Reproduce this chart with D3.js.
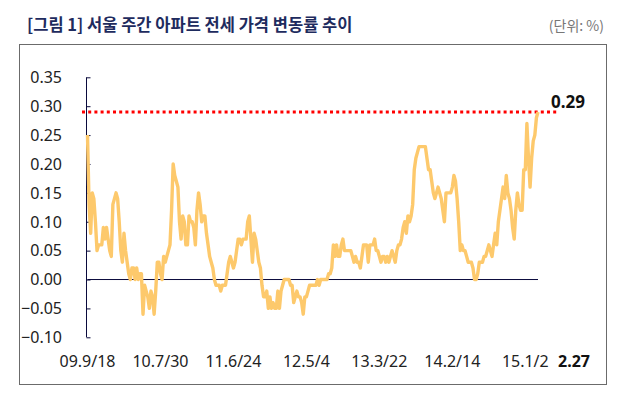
<!DOCTYPE html>
<html>
<head>
<meta charset="utf-8">
<script src="https://cdn.jsdelivr.net/npm/d3@7"></script>
<style>
  body { margin: 0; background: #fff; }
  svg text { font-family: "Noto Sans", "Noto Sans CJK KR", sans-serif; }
</style>
</head>
<body>
<script>
// weekly Seoul apartment jeonse price change (%), 09.9/18 ~ 15.2/27
const weeklyChange = [
  0.25,0.13,0.08,0.15,0.14,0.10,0.05,0.06,0.06,0.06,
  0.09,0.07,0.09,0.07,0.05,0.04,0.13,0.14,0.15,0.14,
  0.10,0.05,0.03,0.08,0.05,0.03,0.01,0.00,0.02,0.02,
  0.00,0.02,0.00,0.01,0.01,-0.06,-0.01,-0.02,-0.03,-0.05,
  -0.02,-0.03,-0.06,-0.02,0.03,0.03,0.01,0.00,0.04,0.03,
  0.04,0.05,0.06,0.12,0.20,0.18,0.17,0.16,0.10,0.07,
  0.11,0.10,0.06,0.06,0.11,0.10,0.10,0.09,0.06,0.12,
  0.15,0.13,0.10,0.11,0.11,0.08,0.06,0.04,0.03,0.02,
  0.00,-0.01,-0.01,-0.01,-0.02,-0.01,-0.01,-0.01,0.01,0.03,
  0.04,0.03,0.02,0.03,0.05,0.07,0.07,0.06,0.07,0.07,
  0.07,0.10,0.11,0.07,0.03,0.08,0.07,0.05,0.03,0.02,
  -0.01,-0.03,-0.03,-0.02,-0.05,-0.03,-0.05,-0.04,-0.05,-0.05,
  -0.02,-0.05,-0.02,-0.01,0.00,0.00,0.00,0.00,-0.01,-0.01,
  -0.04,-0.03,-0.02,-0.03,-0.03,-0.04,-0.06,-0.03,-0.03,-0.02,
  -0.01,-0.01,-0.01,-0.01,-0.01,0.00,-0.01,0.00,0.00,0.00,
  0.00,0.00,0.01,0.01,0.02,0.06,0.04,0.06,0.04,0.04,
  0.06,0.07,0.05,0.05,0.05,0.05,0.05,0.04,0.03,0.04,
  0.03,0.03,0.02,0.04,0.06,0.06,0.06,0.03,0.06,0.06,
  0.06,0.07,0.05,0.05,0.04,0.03,0.04,0.04,0.03,0.04,
  0.03,0.04,0.05,0.04,0.03,0.05,0.06,0.06,0.07,0.09,
  0.10,0.08,0.11,0.10,0.11,0.13,0.19,0.21,0.22,0.23,
  0.23,0.23,0.23,0.23,0.21,0.19,0.19,0.17,0.15,0.14,
  0.15,0.16,0.15,0.14,0.12,0.10,0.15,0.15,0.15,0.15,
  0.16,0.18,0.17,0.14,0.10,0.05,0.06,0.05,0.05,0.04,
  0.03,0.03,0.03,0.02,0.00,0.00,0.01,0.03,0.03,0.03,
  0.04,0.04,0.05,0.06,0.05,0.04,0.06,0.08,0.06,0.10,
  0.12,0.14,0.16,0.14,0.18,0.15,0.14,0.12,0.09,0.07,
  0.12,0.15,0.13,0.12,0.12,0.19,0.19,0.27,0.21,0.16,
  0.21,0.24,0.25,0.28,0.29
];
const xTickLabels = ["09.9/18","10.7/30","11.6/24","12.5/4","13.3/22","14.2/14","15.1/2"];
const weeksPerTick = 46;
const lastLabel = "2.27";
const yTicks = [-0.10,-0.05,0.00,0.05,0.10,0.15,0.20,0.25,0.30,0.35];
const peakValue = 0.29;
const title = "[그림 1] 서울 주간 아파트 전세 가격 변동률 추이";
const unit = "(단위: %)";

const w = 619, h = 396;

const svg = d3.select("body").append("svg")
  .attr("width", w)
  .attr("height", h);

svg.append("text")
  .attr("x", 27).attr("y", 31)
  .attr("font-size", 16.5).attr("font-weight", "bold")
  .attr("fill", "#1e2b5e")
  .style("font-family", "'Noto Sans CJK KR', sans-serif")
  .text(title);

svg.append("text")
  .attr("x", 604).attr("y", 31)
  .attr("text-anchor", "end")
  .attr("font-size", 14).attr("fill", "#777")
  .style("font-family", "'Noto Sans CJK KR', sans-serif")
  .text(unit);

// frame
svg.append("rect")
  .attr("x", 19.5).attr("y", 44.5)
  .attr("width", 587).attr("height", 340)
  .attr("fill", "none").attr("stroke", "#6b6b6b");

const xScale = d3.scaleLinear()
  .domain([0, weeklyChange.length - 1])
  .range([87.5, 538]);

const yScale = d3.scaleLinear()
  .domain([-0.10, 0.35])
  .range([337.3, 77.3]);

// zero line
svg.append("line")
  .attr("x1", xScale(0)).attr("x2", xScale(weeklyChange.length - 1))
  .attr("y1", yScale(0)).attr("y2", yScale(0))
  .attr("stroke", "#0a0a3c").attr("stroke-width", 1);

// y axis
const yAxis = d3.axisRight(yScale)
  .tickValues(yTicks)
  .tickSize(4)
  .tickFormat("");
const yG = svg.append("g")
  .attr("transform", "translate(86.5,0)")
  .call(yAxis);
yG.select(".domain").attr("stroke", "#0a0a3c").attr("d", "M0," + yScale(-0.10) + "V" + yScale(0.35));
yG.selectAll(".tick line").attr("stroke", "#0a0a3c");

svg.selectAll(".ylab")
  .data(yTicks)
  .enter().append("text")
  .attr("class", "ylab")
  .attr("x", 62)
  .attr("y", d => yScale(d))
  .attr("dy", "0.36em")
  .attr("text-anchor", "end")
  .attr("font-size", 16).attr("fill", "#222")
  .text(d => d3.format(".2f")(d));

// x labels
svg.selectAll(".xlab")
  .data(xTickLabels)
  .enter().append("text")
  .attr("class", "xlab")
  .attr("x", (d, i) => xScale(i * weeksPerTick))
  .attr("y", 367)
  .attr("text-anchor", "middle")
  .attr("font-size", 16).attr("fill", "#222")
  .text(d => d);

svg.append("text")
  .attr("x", xScale(weeklyChange.length - 1) + 20)
  .attr("y", 367)
  .attr("font-size", 16).attr("font-weight", "bold").attr("fill", "#111")
  .text(lastLabel);

// 0.29 reference
svg.append("line")
  .attr("x1", 82).attr("x2", 558)
  .attr("y1", yScale(peakValue)).attr("y2", yScale(peakValue))
  .attr("stroke", "#ff0000").attr("stroke-width", 3)
  .attr("stroke-dasharray", "3,3.2");

svg.append("text")
  .attr("x", 551).attr("y", 108)
  .attr("font-size", 17).attr("font-weight", "bold").attr("fill", "#111")
  .text(d3.format(".2f")(peakValue));

const line = d3.line()
  .x((d, i) => xScale(i))
  .y(d => yScale(d));

svg.append("path")
  .datum(weeklyChange)
  .attr("d", line)
  .attr("fill", "none")
  .attr("stroke", "#fdc96c")
  .attr("stroke-width", 3.4)
  .attr("stroke-linejoin", "round");
</script>
</body>
</html>
